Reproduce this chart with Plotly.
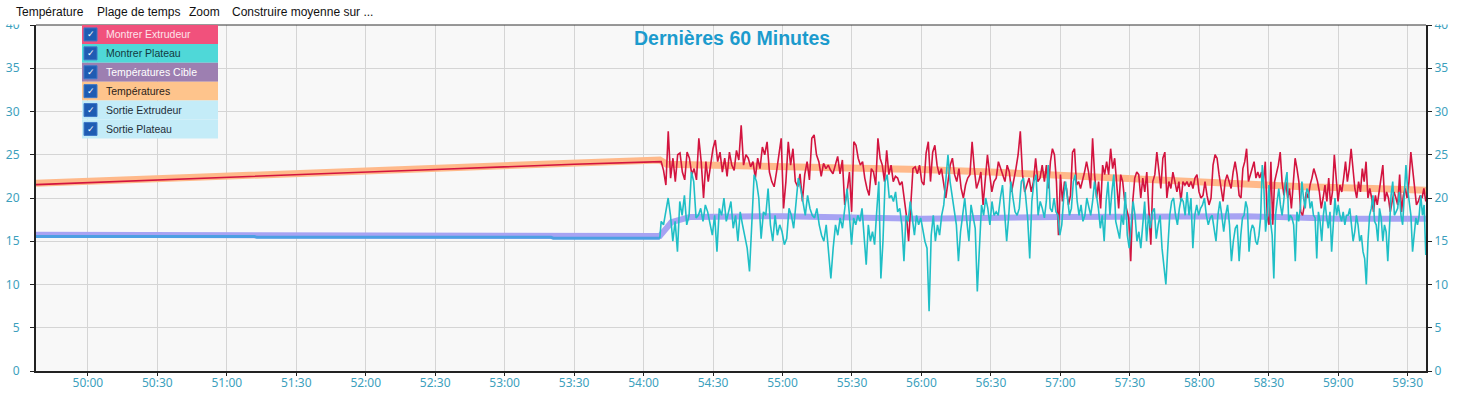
import numpy as np
import pandas as pd
import plotly.graph_objects as go

# ---------------- data ----------------
DAY = "2024-01-01 00:"
X_RANGE = ["49:37.6", "59:37.9"]
TICK0 = "50:00"

LEFT_TIMES = ["49:37.6", "50:30", "51:30", "52:30", "53:30", "54:07"]
RED_LEFT = [21.55, 22.1, 22.7, 23.3, 23.9, 24.2]

ORANGE_TIMES = ["49:37.6", "50:30", "51:30", "52:30", "53:30", "54:07", "54:10", "54:30",
                "55:00", "55:27", "56:00", "56:30", "56:52", "57:35", "58:16", "58:45",
                "59:15", "59:38"]
ORANGE_VALS = [21.7, 22.2, 22.8, 23.4, 24.0, 24.4, 23.9, 23.8, 23.6, 23.6, 23.3, 23.0,
               22.7, 22.1, 21.5, 21.3, 21.1, 20.9]

BLUE_TIMES = ["49:37.6", "51:12", "51:13", "53:20", "53:21", "54:07"]
BLUE_VALS = [15.55, 15.55, 15.45, 15.45, 15.35, 15.35]

LAV_TIMES = ["49:37.6", "51:12", "51:13", "53:20", "53:21", "54:07", "54:12", "54:20",
             "55:00", "56:00", "57:00", "58:00", "58:20", "59:00", "59:38"]
LAV_VALS = [15.75, 15.75, 15.7, 15.7, 15.6, 15.6, 17.2, 17.8, 17.9, 17.6, 17.8, 17.9,
            17.9, 17.6, 17.6]

SEG_BOUNDS = ["54:07.6", "55:28.9", "56:53.1", "58:17.2", "59:37.8"]

RED_SEG1 = [24.2, 23.2, 21.5, 27.7, 22.3, 24.6, 21.9, 25.0, 25.2, 23.0,
            22.1, 25.3, 24.6, 22.7, 23.4, 22.1, 26.9, 24.2, 20.0, 24.2,
            21.9, 23.8, 25.7, 26.7, 24.2, 25.3, 23.0, 24.6, 22.5, 25.3,
            23.8, 23.2, 25.5, 24.4, 28.4, 23.8, 25.0, 24.6, 23.6, 24.2,
            22.3, 24.6, 23.4, 25.9, 25.0, 26.5, 23.0, 21.9, 21.3, 23.0,
            25.3, 26.9, 18.8, 21.9, 26.5, 23.8, 25.7, 21.9, 21.3, 22.8,
            19.6, 22.7, 24.2, 22.1, 26.9, 27.3, 25.0, 24.2, 22.5, 24.0,
            23.4, 23.8, 23.2, 22.8, 23.8, 24.8, 22.8, 24.4, 19.2, 20.7]
RED_SEG2 = [23.0, 18.4, 26.5, 26.1, 24.6, 23.8, 24.2, 22.3, 21.1, 20.3,
            23.4, 23.0, 21.5, 26.9, 24.6, 23.8, 21.9, 25.5, 22.7, 23.8,
            21.9, 22.5, 22.3, 21.5, 21.9, 20.0, 18.0, 15.0, 19.6, 23.4,
            23.6, 22.8, 23.8, 21.9, 21.5, 25.2, 26.5, 21.9, 25.3, 26.1,
            23.8, 22.7, 23.4, 21.9, 20.0, 21.9, 23.8, 24.6, 22.7, 21.9,
            23.4, 21.1, 20.0, 21.5, 22.3, 22.7, 26.5, 23.4, 21.1, 21.9,
            23.0, 19.2, 21.9, 25.0, 22.8, 20.7, 21.9, 22.3, 24.2, 23.4,
            22.7, 21.9, 23.8, 23.0, 20.7, 21.9, 23.4, 25.0, 27.7, 22.7,
            20.7, 21.5, 22.3, 20.7, 21.9, 24.6, 21.9, 22.3, 23.8]
RED_SEG3 = [21.9, 23.8, 21.1, 24.2, 25.7, 25.0, 21.9, 15.7, 22.7, 19.6,
            21.9, 21.1, 19.2, 20.3, 25.3, 25.7, 21.5, 21.9, 21.1, 21.9,
            23.0, 24.2, 23.0, 21.1, 26.9, 22.7, 20.0, 21.9, 18.8, 23.8,
            22.7, 24.2, 22.7, 25.7, 23.4, 24.6, 21.9, 18.8, 22.7, 21.9,
            19.6, 18.8, 17.7, 12.7, 19.6, 22.3, 23.0, 22.7, 20.0, 22.3,
            20.7, 23.0, 18.4, 14.6, 21.9, 22.7, 25.3, 23.4, 21.1, 24.6,
            25.3, 20.0, 21.9, 21.1, 23.0, 21.9, 20.7, 21.9, 19.6, 21.9,
            21.5, 21.9, 21.3, 21.9, 21.1, 22.3, 22.7, 20.7, 20.0, 20.3,
            21.9, 20.3, 19.2, 20.0, 23.8, 25.0, 24.6, 22.7, 21.1, 19.6,
            21.9, 22.7, 21.9, 21.1, 23.0, 24.2, 22.7]
RED_SEG4 = [20.3, 20.0, 23.4, 24.2, 25.7, 21.9, 22.7, 23.4, 24.2, 22.3,
            23.0, 22.3, 23.0, 21.9, 24.2, 18.0, 16.9, 24.2, 16.9, 21.9,
            22.7, 23.8, 25.3, 21.9, 20.3, 21.9, 20.0, 21.1, 18.8, 21.9,
            24.6, 23.4, 21.9, 18.4, 18.0, 19.2, 20.7, 20.0, 21.5, 22.3,
            23.4, 22.7, 21.9, 20.7, 18.8, 20.0, 21.5, 19.6, 22.3, 19.2,
            20.7, 25.0, 21.9, 19.6, 21.5, 20.7, 22.3, 24.2, 21.9, 23.4,
            25.7, 23.0, 21.1, 20.0, 21.9, 20.7, 23.4, 21.9, 24.2, 20.0,
            21.1, 20.0, 18.4, 20.3, 19.2, 20.7, 22.3, 23.8, 19.6, 20.7,
            20.0, 18.4, 19.6, 20.7, 20.0, 19.2, 22.7, 18.4, 20.3, 21.1,
            20.0, 21.9, 25.3, 23.0, 20.7, 19.2, 19.6, 20.3, 20.0, 21.1, 19.6]

CYAN_SEG1 = [17.3, 16.9, 18.4, 20.0, 18.0, 15.0, 17.3, 13.8, 19.6, 18.0,
             20.3, 16.9, 18.0, 23.0, 21.9, 17.7, 18.0, 18.8, 17.3, 19.2,
             18.4, 16.9, 15.7, 18.0, 13.8, 18.8, 18.0, 20.0, 17.3, 18.4,
             19.6, 16.5, 18.0, 15.0, 18.4, 16.9, 15.7, 14.2, 11.5, 18.0,
             22.7, 21.9, 20.0, 15.3, 18.4, 18.0, 21.1, 16.9, 15.0, 18.0,
             15.7, 16.9, 16.1, 14.6, 15.3, 18.8, 18.0, 16.5, 19.2, 22.3,
             21.1, 19.6, 18.0, 20.3, 18.8, 18.0, 17.7, 18.8, 16.9, 15.7,
             15.0, 16.9, 13.4, 10.7, 14.2, 16.9, 15.7, 17.7, 16.5, 18.8, 21.1]
CYAN_SEG2 = [18.0, 14.6, 17.7, 16.9, 18.0, 17.3, 18.8, 15.7, 12.3, 16.9,
             15.0, 16.1, 14.6, 18.4, 21.9, 10.7, 15.0, 21.9, 22.7, 20.0,
             20.3, 19.6, 20.7, 18.4, 18.8, 16.9, 12.7, 18.0, 17.3, 19.6,
             17.3, 15.7, 18.0, 16.9, 17.7, 16.1, 15.0, 14.2, 6.9, 15.7,
             18.0, 15.0, 16.9, 15.7, 18.0, 19.2, 22.7, 25.0, 21.9, 20.3,
             18.8, 16.9, 12.7, 16.1, 18.0, 20.0, 17.3, 15.0, 19.2, 18.0,
             16.5, 9.2, 15.3, 19.2, 18.0, 20.0, 18.8, 16.9, 19.6, 18.0,
             18.4, 18.0, 20.0, 21.5, 18.4, 15.0, 18.0, 21.9, 20.0, 18.4,
             18.0, 18.8, 21.9, 22.3, 20.3, 17.7, 13.0, 19.6, 21.9, 22.7,
             18.0, 19.6, 18.8]
CYAN_SEG3 = [17.7, 19.6, 23.8, 18.8, 18.4, 20.0, 18.4, 18.0, 15.7, 16.9,
             20.0, 21.9, 19.6, 18.0, 18.8, 21.9, 22.7, 19.6, 18.0, 19.2,
             17.3, 18.0, 20.0, 18.8, 18.0, 19.6, 21.9, 20.3, 18.8, 16.5,
             18.0, 15.0, 19.6, 21.9, 18.0, 20.7, 22.7, 17.3, 16.1, 15.3,
             18.0, 16.9, 20.7, 15.7, 14.2, 16.9, 19.6, 18.0, 15.0, 16.1,
             14.2, 16.9, 19.6, 15.0, 18.0, 16.5, 18.4, 18.8, 15.3, 16.9,
             18.0, 14.2, 12.3, 10.0, 14.2, 18.0, 19.6, 20.0, 18.0, 16.9,
             18.8, 20.0, 19.6, 18.0, 20.7, 18.0, 20.0, 14.2, 18.0, 19.2,
             18.0, 18.8, 19.2, 20.0, 18.0, 16.9, 17.7, 18.0, 16.5, 15.0,
             18.0, 19.6, 18.0, 16.1, 18.0, 19.2, 16.9, 12.7, 15.0, 16.5, 16.9]
CYAN_SEG4 = [12.7, 15.7, 17.7, 18.0, 19.6, 18.8, 13.8, 16.1, 16.9, 16.5,
             15.0, 14.6, 15.7, 17.7, 23.8, 21.1, 16.1, 18.0, 21.5, 17.3,
             15.7, 10.7, 18.0, 19.6, 21.1, 19.2, 18.0, 19.6, 21.9, 23.0,
             17.3, 18.0, 17.7, 16.9, 12.7, 18.4, 17.3, 18.8, 21.9, 20.0,
             18.8, 21.1, 20.7, 18.8, 19.6, 18.0, 17.7, 13.0, 18.4, 17.3,
             15.0, 18.0, 19.6, 17.7, 16.5, 18.4, 13.8, 16.9, 20.0, 18.0,
             19.2, 18.0, 17.3, 18.4, 16.9, 18.0, 18.0, 18.8, 16.9, 15.0,
             16.1, 18.0, 16.9, 15.0, 15.7, 13.8, 13.0, 10.0, 15.0, 18.0,
             18.8, 20.3, 17.3, 16.9, 15.0, 18.8, 17.7, 15.0, 16.9, 16.1,
             12.7, 16.9, 20.3, 21.9, 18.0, 18.4, 18.8, 20.7, 18.0, 16.9,
             20.3, 23.8, 21.1, 19.6, 18.0, 13.8, 16.1, 17.7, 16.9, 18.0,
             20.3, 18.0, 19.2, 13.4]

Y_TICKS = [0, 5, 10, 15, 20, 25, 30, 35, 40]
TITLE = "Dernières 60 Minutes"
MENU_ITEMS = ["Température", "Plage de temps", "Zoom", "Construire moyenne sur ..."]
LEGEND_LABELS = ["Montrer Extrudeur", "Montrer Plateau", "Températures Cible",
                 "Températures", "Sortie Extrudeur", "Sortie Plateau"]

# ---------------- helpers ----------------
def ts(s):
    return pd.Timestamp(DAY + s)

def tlist(lst):
    return [ts(s) for s in lst]

def segments(seg_values):
    times, vals = [], []
    n = len(seg_values)
    for i, v in enumerate(seg_values):
        last = (i == n - 1)
        rng = pd.date_range(ts(SEG_BOUNDS[i]), ts(SEG_BOUNDS[i + 1]), periods=len(v) + (0 if last else 1))
        if not last:
            rng = rng[:-1]
        times.extend(list(rng))
        vals.extend(v)
    return times, vals

red_t, red_v = segments([RED_SEG1, RED_SEG2, RED_SEG3, RED_SEG4])
cyan_t, cyan_v = segments([CYAN_SEG1, CYAN_SEG2, CYAN_SEG3, CYAN_SEG4])
red_t = tlist(LEFT_TIMES) + red_t
red_v = RED_LEFT + red_v
cyan_t = [ts(BLUE_TIMES[-1])] + cyan_t
cyan_v = [BLUE_VALS[-1]] + cyan_v

# ---------------- styles ----------------
W, H = 1459, 393
PL, PR, PT, PB = 36, 1426, 25, 371
TICKCOL = "#3c9fbd"
AXCOL = "#222222"
GRID = "#d5d5d5"
C_ORANGE = "#ffb98a"
C_LAV = "#a7a3f3"
C_BLUE = "#4d9fe3"
C_RED = "#d3143f"
C_CYAN = "#1fbfc6"

def px(x):
    return (x - PL) / (PR - PL)

def py(y):
    return (PB - y) / (PB - PT)

fig = go.Figure()
fig.add_trace(go.Scatter(x=tlist(ORANGE_TIMES), y=ORANGE_VALS, mode="lines",
                         line=dict(color=C_ORANGE, width=7), hoverinfo="skip"))
fig.add_trace(go.Scatter(x=tlist(LAV_TIMES), y=LAV_VALS, mode="lines",
                         line=dict(color=C_LAV, width=6), hoverinfo="skip"))
fig.add_trace(go.Scatter(x=tlist(BLUE_TIMES), y=BLUE_VALS, mode="lines",
                         line=dict(color=C_BLUE, width=3), hoverinfo="skip"))
fig.add_trace(go.Scatter(x=red_t, y=red_v, mode="lines",
                         line=dict(color=C_RED, width=1.6), hoverinfo="skip"))
fig.add_trace(go.Scatter(x=cyan_t, y=cyan_v, mode="lines",
                         line=dict(color=C_CYAN, width=1.6), hoverinfo="skip"))
fig.add_trace(go.Scatter(x=[ts(X_RANGE[0])], y=[0], yaxis="y2", mode="markers",
                         marker=dict(opacity=0), hoverinfo="skip"))

tickfont = dict(family="Noto Sans, Open Sans, sans-serif", size=12, color=TICKCOL)
fig.update_layout(
    width=W, height=H,
    margin=dict(l=PL, r=W - PR, t=PT, b=H - PB, autoexpand=False),
    paper_bgcolor="white", plot_bgcolor="#f8f8f8",
    showlegend=False,
    xaxis=dict(type="date", range=[ts(X_RANGE[0]), ts(X_RANGE[1])],
               tick0=ts(TICK0), dtick=30000, tickformat="%M:%S",
               showgrid=True, gridcolor=GRID, gridwidth=1,
               showline=True, linecolor=AXCOL, linewidth=2,
               ticks="outside", ticklen=3, tickcolor=AXCOL, tickwidth=1,
               tickfont=tickfont, zeroline=False, automargin=False,
               ticklabelstandoff=-3),
    yaxis=dict(range=[0, 40], tickvals=Y_TICKS, showgrid=True, gridcolor=GRID,
               showline=True, linecolor=AXCOL, linewidth=2,
               ticks="outside", ticklen=4, tickcolor=AXCOL, tickwidth=1,
               tickfont=tickfont, zeroline=False, automargin=False,
               ticklabelstandoff=8),
    yaxis2=dict(range=[0, 40], tickvals=Y_TICKS, overlaying="y", side="right",
                showgrid=False, showline=True, linecolor=AXCOL, linewidth=2,
                ticks="outside", ticklen=4, tickcolor=AXCOL, tickwidth=1,
                tickfont=tickfont, zeroline=False, automargin=False),
)

shapes = []
annotations = []
shapes.append(dict(type="rect", xref="paper", yref="paper", x0=px(-5), x1=px(W + 5),
                   y0=py(24.5), y1=py(-5), fillcolor="white", line=dict(width=0), layer="above"))
shapes.append(dict(type="line", xref="paper", yref="paper", x0=0, x1=1, y0=1, y1=1,
                   line=dict(color="#333333", width=1), layer="above"))

menu_x = [14, 95, 187, 230]
for label, mx in zip(MENU_ITEMS, menu_x):
    annotations.append(dict(text=label, xref="paper", yref="paper", x=px(mx), y=py(12.5),
                            xanchor="left", yanchor="middle", showarrow=False,
                            font=dict(family="Liberation Sans, Arial, sans-serif", size=12, color="#111111")))

annotations.append(dict(text="<b>" + TITLE + "</b>", xref="paper", yref="paper",
                        x=px(731.5), y=py(38), xanchor="center", yanchor="middle", showarrow=False,
                        font=dict(family="Liberation Sans, Arial, sans-serif", size=19.5, color="#1c9bcd")))

row_bg = ["#f1517c", "#4fd8d8", "#9d7fb1", "#fec48c", "#c4ecf8", "#c4ecf8"]
row_fg = ["#fde3ea", "#123a42", "#ffffff", "#2a2218", "#1e2e38", "#1e2e38"]
row_h = 18.9
for k, label in enumerate(LEGEND_LABELS):
    top = PT + k * row_h
    bot = top + row_h
    shapes.append(dict(type="rect", xref="paper", yref="paper", x0=px(82), x1=px(218),
                       y0=py(bot), y1=py(top), fillcolor=row_bg[k], line=dict(width=0), layer="above"))
    cy = (top + bot) / 2
    shapes.append(dict(type="rect", xref="paper", yref="paper", x0=px(84), x1=px(97),
                       y0=py(cy + 6.5), y1=py(cy - 6.5), fillcolor="#1f5cb3",
                       line=dict(color="#3d78c8", width=1), layer="above"))
    annotations.append(dict(text="✓", xref="paper", yref="paper", x=px(90.5), y=py(cy),
                            xanchor="center", yanchor="middle", showarrow=False,
                            font=dict(family="DejaVu Sans", size=9, color="white")))
    annotations.append(dict(text=label, xref="paper", yref="paper", x=px(103.5), y=py(cy),
                            xanchor="left", yanchor="middle", showarrow=False,
                            font=dict(family="Liberation Sans, Arial, sans-serif", size=10.5, color=row_fg[k])))

fig.update_layout(shapes=shapes, annotations=annotations)
fig.write_html("out.html", config={"displayModeBar": False},
               post_script="document.body.style.margin='0px';document.body.style.overflow='hidden';")
